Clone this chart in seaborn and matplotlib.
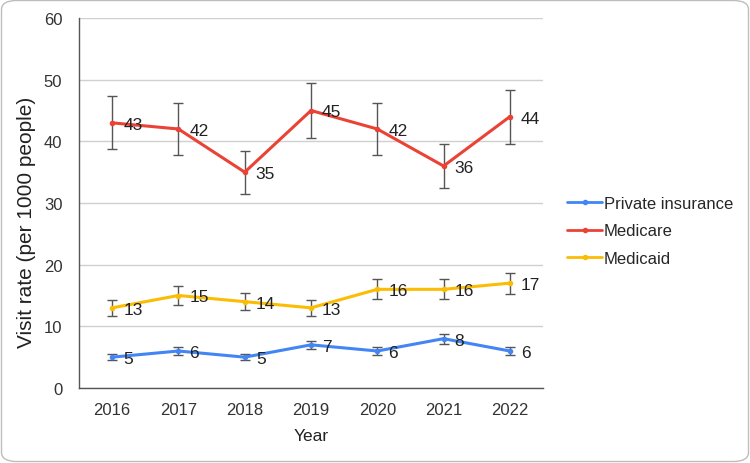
import matplotlib
matplotlib.use("Agg")
import matplotlib.pyplot as plt
import seaborn as sns
import pandas as pd
import numpy as np
from matplotlib.patches import FancyBboxPatch

years = [2016, 2017, 2018, 2019, 2020, 2021, 2022]
private_insurance = [5, 6, 5, 7, 6, 8, 6]
medicare = [43, 42, 35, 45, 42, 36, 44]
medicaid = [13, 15, 14, 13, 16, 16, 17]
private_err = [0.5, 0.6, 0.5, 0.7, 0.6, 0.8, 0.6]
medicare_err = [4.3, 4.2, 3.5, 4.5, 4.2, 3.6, 4.4]
medicaid_err = [1.3, 1.5, 1.4, 1.3, 1.6, 1.6, 1.7]
series_names = ["Private insurance", "Medicare", "Medicaid"]
colors = ["#4285F4", "#EA4335", "#FBBC04"]

sns.set_theme(style="white")
plt.rcParams['font.family'] = ['Liberation Sans', 'DejaVu Sans']

rows = []
for name, vals, errs in zip(series_names, [private_insurance, medicare, medicaid],
                            [private_err, medicare_err, medicaid_err]):
    for i, (y, v, e) in enumerate(zip(years, vals, errs)):
        rows.append({"idx": i, "Year": str(y), "Series": name, "Value": v, "Err": e})
df = pd.DataFrame(rows)

fig = plt.figure(figsize=(7.5, 4.64), dpi=100)
ax = fig.add_axes([79/750, 1 - 389/464, (543 - 79)/750, (389 - 19)/464])

border = FancyBboxPatch((1.5/750, 1.5/464), 747/750, 461/464,
                        boxstyle="round,pad=0,rounding_size=0.02",
                        transform=fig.transFigure, facecolor="none",
                        edgecolor="#BDBDBD", linewidth=1.0, zorder=0)
fig.patches.append(border)

palette = dict(zip(series_names, colors))
sns.lineplot(data=df, x="idx", y="Value", hue="Series", palette=palette,
             hue_order=series_names, marker="o", markersize=4,
             markeredgewidth=0, linewidth=2.2, ax=ax, legend=True, zorder=3)

for name in series_names:
    sub = df[df["Series"] == name]
    ax.errorbar(sub["idx"], sub["Value"], yerr=sub["Err"], fmt="none",
                ecolor="#555555", elinewidth=1.0, capsize=3.5, capthick=1.0, zorder=2)
    for _, r in sub.iterrows():
        ax.annotate(f"{r['Value']:g}", (r["idx"], r["Value"]), xytext=(8, -1),
                    textcoords="offset points", ha="left", va="center",
                    fontsize=12.5, color="#222222", zorder=4)

ax.set_xlim(-0.5, len(years) - 0.5)
ax.set_ylim(0, 60)
ax.set_yticks(np.arange(0, 61, 10))
ax.set_xticks(range(len(years)))
ax.set_xticklabels([str(y) for y in years])
ax.tick_params(axis="both", labelsize=12, colors="#333333", length=0)
ax.tick_params(axis="y", pad=12)
ax.tick_params(axis="x", pad=10)
ax.grid(axis="y", color="#D0D0D0", linewidth=1.0)
ax.set_axisbelow(True)
for s in ["top", "right"]:
    ax.spines[s].set_visible(False)
for s in ["left", "bottom"]:
    ax.spines[s].set_color("#555555")
    ax.spines[s].set_linewidth(1.0)

ax.set_xlabel("Year", fontsize=12.5, color="#222222", labelpad=8)
ax.set_ylabel("Visit rate (per 1000 people)", fontsize=15, color="#222222")
ax.yaxis.set_label_coords(-0.092, (389 - 222) / 370)

leg = ax.legend(loc="center left", bbox_to_anchor=(567/750, 1 - 232/464),
                bbox_transform=fig.transFigure, frameon=False, fontsize=12,
                handlelength=2.1, handletextpad=0.1, labelspacing=0.75,
                borderpad=0, borderaxespad=0)
for h in leg.get_lines():
    h.set_linewidth(2)

fig.savefig("out.png", dpi=100)
